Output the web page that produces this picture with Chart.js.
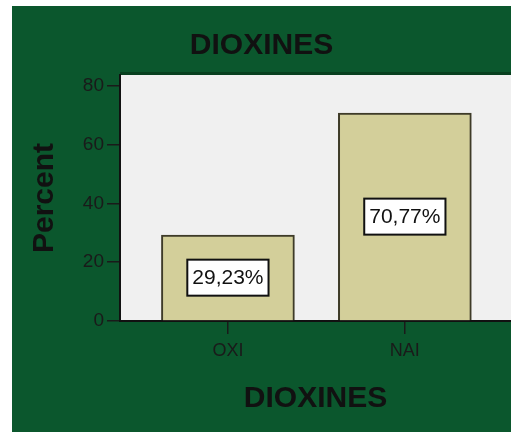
<!DOCTYPE html>
<html>
<head>
<meta charset="utf-8">
<script src="https://cdn.jsdelivr.net/npm/chart.js@4.4.1/dist/chart.umd.min.js"></script>
<style>
  html, body { margin: 0; padding: 0; background: #fff; }
  #wrap { width: 511px; height: 432px; position: relative; }
</style>
</head>
<body>
<div id="wrap"><canvas id="chart"></canvas></div>
<script>
// data
const categories = ['OXI', 'NAI']
const percents = [29.23, 70.77]
const yTicks = [0, 20, 40, 60, 80]
const pctLabels = ['29,23%', '70,77%']

const FONT = '"Liberation Sans", Arial, sans-serif'
const GREEN = '#0b572d'
const INK = '#111'

// green panel + grey plot area behind everything
const backdrop = {
  id: 'backdrop',
  beforeDraw(chart) {
    const { ctx, chartArea: a, width, height } = chart
    ctx.save()
    ctx.fillStyle = '#fff'
    ctx.fillRect(0, 0, width, height)
    ctx.fillStyle = GREEN
    ctx.fillRect(12, 6, width - 12, height - 6)
    ctx.fillStyle = '#08401f'
    ctx.fillRect(a.left, a.top - 3, a.right - a.left, 3)
    ctx.fillStyle = '#f0f0f0'
    ctx.fillRect(a.left, a.top, a.right - a.left, a.bottom - a.top)
    ctx.restore()
  }
}

// boxed percentage labels in the middle of each bar
const boxLabels = {
  id: 'boxLabels',
  afterDatasetsDraw(chart) {
    const { ctx } = chart
    const meta = chart.getDatasetMeta(0)
    ctx.save()
    ctx.font = '21px ' + FONT
    ctx.textAlign = 'center'
    ctx.textBaseline = 'middle'
    meta.data.forEach((bar, i) => {
      const text = pctLabels[i]
      const cy = (bar.y + bar.base) / 2
      const w = ctx.measureText(text).width + 10
      const h = 36
      ctx.fillStyle = '#fff'
      ctx.fillRect(bar.x - w / 2, cy - h / 2, w, h)
      ctx.strokeStyle = '#111'
      ctx.lineWidth = 2
      ctx.strokeRect(bar.x - w / 2, cy - h / 2, w, h)
      ctx.fillStyle = INK
      ctx.fillText(text, bar.x, cy + 1)
    })
    ctx.restore()
  }
}

new Chart(document.getElementById('chart'), {
  type: 'bar',
  data: {
    datasets: [{
      data: percents.map((v, i) => ({ x: i, y: v })),
      backgroundColor: '#d3cf9a',
      borderColor: '#3e3b28',
      borderWidth: 2,
      barThickness: 133
    }]
  },
  plugins: [backdrop, boxLabels],
  options: {
    responsive: true,
    maintainAspectRatio: false,
    animation: false,
    layout: { padding: { left: 12, top: 0, right: 0, bottom: 0 } },
    plugins: {
      legend: { display: false },
      tooltip: { enabled: false },
      title: {
        display: true,
        text: 'DIOXINES',
        color: INK,
        font: { family: FONT, size: 30, weight: 'bold', lineHeight: 1.2 },
        padding: { top: 28, bottom: 11 }
      }
    },
    scales: {
      x: {
        type: 'linear',
        offset: false,
        min: -0.61,
        max: 1.6,
        afterBuildTicks: s => { s.ticks = categories.map((_, i) => ({ value: i })) },
        afterFit: s => { s.height = 111 },
        grid: { offset: false, drawOnChartArea: false, drawTicks: true, tickLength: 13, color: '#1a1a1a', lineWidth: 1.5 },
        border: { display: true, color: '#111', width: 2 },
        ticks: {
          color: '#1a1a1a',
          padding: 6,
          font: { family: FONT, size: 18 },
          callback: v => categories[v] ?? ''
        },
        title: {
          display: true,
          text: 'DIOXINES',
          color: INK,
          font: { family: FONT, size: 30, weight: 'bold', lineHeight: 1.2 },
          padding: { top: 0, bottom: 15 }
        }
      },
      y: {
        min: 0,
        max: 83.7,
        afterBuildTicks: s => { s.ticks = yTicks.map(v => ({ value: v })) },
        afterFit: s => { s.width = 108 },
        grid: { drawOnChartArea: false, drawTicks: true, tickLength: 13, color: '#1a1a1a', lineWidth: 1.5 },
        border: { display: true, color: '#111', width: 2 },
        ticks: {
          color: '#1a1a1a',
          padding: 3,
          font: { family: FONT, size: 19 }
        },
        title: {
          display: true,
          text: 'Percent',
          color: INK,
          font: { family: FONT, size: 30, weight: 'bold', lineHeight: 1.2 },
          padding: { top: 15, bottom: 0 }
        }
      }
    }
  }
})
</script>
</body>
</html>
